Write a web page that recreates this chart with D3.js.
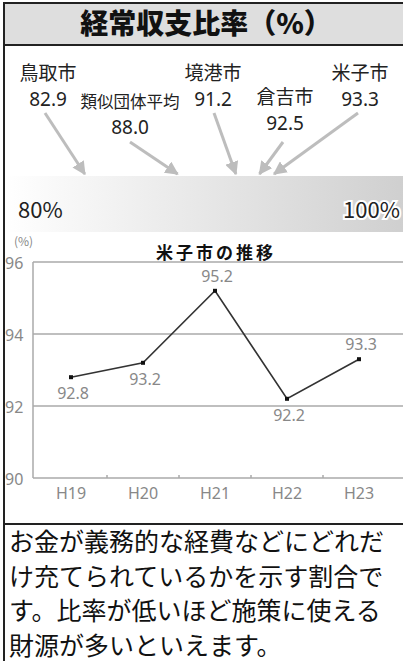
<!DOCTYPE html>
<html lang="ja">
<head>
<meta charset="UTF-8">
<title>経常収支比率</title>
<script src="https://cdnjs.cloudflare.com/ajax/libs/d3/7.8.5/d3.min.js"></script>
<style>
    html, body { margin: 0; padding: 0; background: #fff; }
    svg { display: block; font-family: "Noto Sans CJK JP", "Noto Sans", sans-serif; }
</style>
</head>
<body>
<svg id="chart" width="403" height="661"></svg>
<script>
// data
const cities = ["鳥取市", "類似団体平均", "境港市", "倉吉市", "米子市"];
const cityValues = [82.9, 88.0, 91.2, 92.5, 93.3];
const years = ["H19", "H20", "H21", "H22", "H23"];
const yonagoValues = [92.8, 93.2, 95.2, 92.2, 93.3];
const yTicks = [90, 92, 94, 96];
const noteLines = [
    "お金が義務的な経費などにどれだ",
    "け充てられているかを示す割合で",
    "す。比率が低いほど施策に使える",
    "財源が多いといえます。"
];

// where each city label sits (layout only)
const labelPos = [
    {x: 48, y: 80, size: 19, arrowFrom: [45, 113]},
    {x: 130, y: 108, size: 16.5, arrowFrom: [130, 142]},
    {x: 213, y: 80, size: 19, arrowFrom: [214, 113]},
    {x: 285, y: 104, size: 19, arrowFrom: [283, 142]},
    {x: 360, y: 80, size: 19, arrowFrom: [358, 113]}
];

const svg = d3.select("#chart");
const W = 403;

const defs = svg.append("defs");
const grad = defs.append("linearGradient").attr("id", "bar").attr("x1", 0).attr("x2", 1);
grad.append("stop").attr("offset", 0).attr("stop-color", "#ffffff");
grad.append("stop").attr("offset", 1).attr("stop-color", "#cfcfcf");

defs.append("marker")
    .attr("id", "head")
    .attr("viewBox", "0 0 10 10")
    .attr("refX", 9).attr("refY", 5)
    .attr("markerWidth", 4.5).attr("markerHeight", 4.5)
    .attr("markerUnits", "strokeWidth")
    .attr("orient", "auto")
    .append("path").attr("d", "M0,0L10,5L0,10Z").attr("fill", "#bdbdbd");

// title box
svg.append("rect").attr("x", 4).attr("y", 3).attr("width", W + 5).attr("height", 42)
    .attr("fill", "#dedede").attr("stroke", "#222").attr("stroke-width", 2);
svg.append("text").attr("x", 206).attr("y", 34).attr("text-anchor", "middle")
    .attr("font-size", 28).attr("font-weight", 900).attr("fill", "#111")
    .text("経常収支比率（%）");

// gradient bar with scale 80% .. 100%
const barX = d3.scaleLinear().domain([80, 100]).range([32, 396]);
svg.append("rect").attr("x", 4).attr("y", 176).attr("width", W).attr("height", 56)
    .attr("fill", "url(#bar)");
svg.append("text").attr("x", 18).attr("y", 218).attr("font-size", 22).attr("fill", "#222")
    .text("80%");
svg.append("text").attr("x", 400).attr("y", 218).attr("text-anchor", "end")
    .attr("font-size", 22).attr("fill", "#222")
    .attr("stroke", "#fff").attr("stroke-width", 4).attr("paint-order", "stroke")
    .text("100%");

// arrows + city labels
const cityG = svg.append("g");
cities.forEach((c, i) => {
    const p = labelPos[i];
    cityG.append("line")
        .attr("x1", p.arrowFrom[0]).attr("y1", p.arrowFrom[1])
        .attr("x2", barX(cityValues[i])).attr("y2", 174)
        .attr("stroke", "#bdbdbd").attr("stroke-width", 3)
        .attr("marker-end", "url(#head)");
    cityG.append("text").attr("x", p.x).attr("y", p.y).attr("text-anchor", "middle")
        .attr("font-size", p.size).attr("fill", "#222").text(c);
    cityG.append("text").attr("x", p.x).attr("y", p.y + 26).attr("text-anchor", "middle")
        .attr("font-size", 19).attr("fill", "#222")
        .attr("font-family", "'Noto Sans', sans-serif")
        .text(cityValues[i].toFixed(1));
});

// line chart
const x = d3.scaleBand().domain(years).range([35, 395]);
const y = d3.scaleLinear().domain([90, 96]).range([478, 262]);

svg.append("text").attr("x", 14).attr("y", 246).attr("font-size", 12).attr("fill", "#888")
    .text("(%)");
svg.append("text").attr("x", 216).attr("y", 259).attr("text-anchor", "middle")
    .attr("font-size", 17).attr("font-weight", "bold").attr("letter-spacing", 3)
    .attr("fill", "#111").text("米子市の推移");

const grid = svg.append("g");
grid.selectAll("line").data(yTicks).join("line")
    .attr("x1", 33).attr("x2", W).attr("y1", d => y(d)).attr("y2", d => y(d))
    .attr("stroke", "#aaa").attr("stroke-width", 1.5);
grid.append("line").attr("x1", 33).attr("x2", 33).attr("y1", y(96)).attr("y2", y(90))
    .attr("stroke", "#aaa").attr("stroke-width", 1.5);
grid.selectAll("text").data(yTicks).join("text")
    .attr("x", 5).attr("y", d => y(d) + 7).attr("font-size", 16).attr("fill", "#888")
    .attr("font-family", "'Noto Sans', sans-serif")
    .text(d => d);

// x ticks between bands
const xAxis = d3.axisBottom(x).tickSize(0).tickPadding(10);
const xg = svg.append("g").attr("transform", `translate(0,${y(90)})`).call(xAxis);
xg.select(".domain").remove();
xg.selectAll("text").attr("font-size", 16).attr("fill", "#888")
    .attr("font-family", "'Noto Sans', sans-serif");
svg.append("g").selectAll("line").data(years.slice(1)).join("line")
    .attr("x1", d => x(d)).attr("x2", d => x(d))
    .attr("y1", y(90) - 3).attr("y2", y(90))
    .attr("stroke", "#aaa").attr("stroke-width", 1.5);

const line = d3.line().x((d, i) => x(years[i]) + x.bandwidth() / 2).y(d => y(d));
svg.append("path").datum(yonagoValues).attr("d", line)
    .attr("fill", "none").attr("stroke", "#333").attr("stroke-width", 1.6);
svg.append("g").selectAll("rect").data(yonagoValues).join("rect")
    .attr("x", (d, i) => x(years[i]) + x.bandwidth() / 2 - 2)
    .attr("y", d => y(d) - 2).attr("width", 4).attr("height", 4).attr("fill", "#111");

const above = [false, false, true, false, true];
svg.append("g").selectAll("text").data(yonagoValues).join("text")
    .attr("x", (d, i) => x(years[i]) + x.bandwidth() / 2 + 2)
    .attr("y", (d, i) => above[i] ? y(d) - 9 : y(d) + 22)
    .attr("text-anchor", "middle").attr("font-size", 16).attr("fill", "#888")
    .attr("font-family", "'Noto Sans', sans-serif")
    .text(d => d.toFixed(1));

// note
svg.append("line").attr("x1", 4).attr("x2", W).attr("y1", 524).attr("y2", 524)
    .attr("stroke", "#222").attr("stroke-width", 2);
svg.append("g").selectAll("text").data(noteLines).join("text")
    .attr("x", 9).attr("y", (d, i) => 551 + i * 34.5)
    .attr("font-size", 25).attr("fill", "#111").text(d => d);

// left frame
svg.append("line").attr("x1", 4).attr("x2", 4).attr("y1", 3).attr("y2", 661)
    .attr("stroke", "#222").attr("stroke-width", 2);
</script>
</body>
</html>
